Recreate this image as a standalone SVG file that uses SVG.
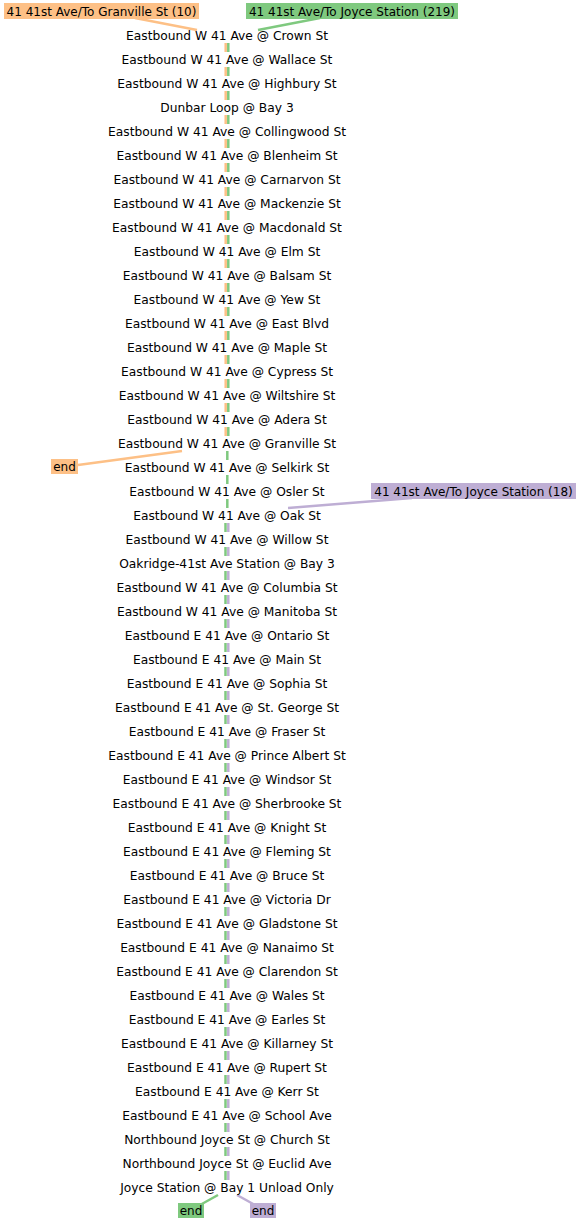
<svg xmlns="http://www.w3.org/2000/svg" width="581" height="1224" viewBox="0 0 581 1224">
<style>
text{font-family:"DejaVu Sans",sans-serif;font-size:12px;fill:#000}
.stop text{text-anchor:middle;font-size:12.25px}
.lbl text{text-anchor:middle}
.o{stroke:#fdc086}
.g{stroke:#7fc97f}
.p{stroke:#beaed4}
#edges line,#edges path{stroke-width:2.5;fill:none}
.fo{fill:#fdc086}
.fg{fill:#7fc97f}
.fp{fill:#beaed4}
</style>
<rect width="581" height="1224" fill="#fff"/>
<g id="edges">
<line class="o" x1="135" y1="18" x2="197" y2="30"/>
<line class="g" x1="320" y1="18" x2="258" y2="30"/>
<g id="seg-og">
<line class="o" x1="225.7" y1="43" x2="225.7" y2="52"/><line class="g" x1="228.3" y1="43" x2="228.3" y2="52"/>
<line class="o" x1="225.7" y1="67" x2="225.7" y2="76"/><line class="g" x1="228.3" y1="67" x2="228.3" y2="76"/>
<line class="o" x1="225.7" y1="91" x2="225.7" y2="100"/><line class="g" x1="228.3" y1="91" x2="228.3" y2="100"/>
<line class="o" x1="225.7" y1="115" x2="225.7" y2="124"/><line class="g" x1="228.3" y1="115" x2="228.3" y2="124"/>
<line class="o" x1="225.7" y1="139" x2="225.7" y2="148"/><line class="g" x1="228.3" y1="139" x2="228.3" y2="148"/>
<line class="o" x1="225.7" y1="163" x2="225.7" y2="172"/><line class="g" x1="228.3" y1="163" x2="228.3" y2="172"/>
<line class="o" x1="225.7" y1="187" x2="225.7" y2="196"/><line class="g" x1="228.3" y1="187" x2="228.3" y2="196"/>
<line class="o" x1="225.7" y1="211" x2="225.7" y2="220"/><line class="g" x1="228.3" y1="211" x2="228.3" y2="220"/>
<line class="o" x1="225.7" y1="235" x2="225.7" y2="244"/><line class="g" x1="228.3" y1="235" x2="228.3" y2="244"/>
<line class="o" x1="225.7" y1="259" x2="225.7" y2="268"/><line class="g" x1="228.3" y1="259" x2="228.3" y2="268"/>
<line class="o" x1="225.7" y1="283" x2="225.7" y2="292"/><line class="g" x1="228.3" y1="283" x2="228.3" y2="292"/>
<line class="o" x1="225.7" y1="307" x2="225.7" y2="316"/><line class="g" x1="228.3" y1="307" x2="228.3" y2="316"/>
<line class="o" x1="225.7" y1="331" x2="225.7" y2="340"/><line class="g" x1="228.3" y1="331" x2="228.3" y2="340"/>
<line class="o" x1="225.7" y1="355" x2="225.7" y2="364"/><line class="g" x1="228.3" y1="355" x2="228.3" y2="364"/>
<line class="o" x1="225.7" y1="379" x2="225.7" y2="388"/><line class="g" x1="228.3" y1="379" x2="228.3" y2="388"/>
<line class="o" x1="225.7" y1="403" x2="225.7" y2="412"/><line class="g" x1="228.3" y1="403" x2="228.3" y2="412"/>
<line class="o" x1="225.7" y1="427" x2="225.7" y2="436"/><line class="g" x1="228.3" y1="427" x2="228.3" y2="436"/>
</g>
<line class="o" x1="182" y1="451" x2="78" y2="465"/>
<g id="seg-g">
<line class="g" x1="227.3" y1="451" x2="227.3" y2="460"/>
<line class="g" x1="227.3" y1="475" x2="227.3" y2="484"/>
<line class="g" x1="227.3" y1="499" x2="227.3" y2="508"/>
</g>
<line class="p" x1="412" y1="498" x2="288" y2="508"/>
<g id="seg-gp">
<line class="g" x1="225.5" y1="523" x2="225.5" y2="532"/><line class="p" x1="228.3" y1="523" x2="228.3" y2="532"/>
<line class="g" x1="225.5" y1="547" x2="225.5" y2="556"/><line class="p" x1="228.3" y1="547" x2="228.3" y2="556"/>
<line class="g" x1="225.5" y1="571" x2="225.5" y2="580"/><line class="p" x1="228.3" y1="571" x2="228.3" y2="580"/>
<line class="g" x1="225.5" y1="595" x2="225.5" y2="604"/><line class="p" x1="228.3" y1="595" x2="228.3" y2="604"/>
<line class="g" x1="225.5" y1="619" x2="225.5" y2="628"/><line class="p" x1="228.3" y1="619" x2="228.3" y2="628"/>
<line class="g" x1="225.5" y1="643" x2="225.5" y2="652"/><line class="p" x1="228.3" y1="643" x2="228.3" y2="652"/>
<line class="g" x1="225.5" y1="667" x2="225.5" y2="676"/><line class="p" x1="228.3" y1="667" x2="228.3" y2="676"/>
<line class="g" x1="225.5" y1="691" x2="225.5" y2="700"/><line class="p" x1="228.3" y1="691" x2="228.3" y2="700"/>
<line class="g" x1="225.5" y1="715" x2="225.5" y2="724"/><line class="p" x1="228.3" y1="715" x2="228.3" y2="724"/>
<line class="g" x1="225.5" y1="739" x2="225.5" y2="748"/><line class="p" x1="228.3" y1="739" x2="228.3" y2="748"/>
<line class="g" x1="225.5" y1="763" x2="225.5" y2="772"/><line class="p" x1="228.3" y1="763" x2="228.3" y2="772"/>
<line class="g" x1="225.5" y1="787" x2="225.5" y2="796"/><line class="p" x1="228.3" y1="787" x2="228.3" y2="796"/>
<line class="g" x1="225.5" y1="811" x2="225.5" y2="820"/><line class="p" x1="228.3" y1="811" x2="228.3" y2="820"/>
<line class="g" x1="225.5" y1="835" x2="225.5" y2="844"/><line class="p" x1="228.3" y1="835" x2="228.3" y2="844"/>
<line class="g" x1="225.5" y1="859" x2="225.5" y2="868"/><line class="p" x1="228.3" y1="859" x2="228.3" y2="868"/>
<line class="g" x1="225.5" y1="883" x2="225.5" y2="892"/><line class="p" x1="228.3" y1="883" x2="228.3" y2="892"/>
<line class="g" x1="225.5" y1="907" x2="225.5" y2="916"/><line class="p" x1="228.3" y1="907" x2="228.3" y2="916"/>
<line class="g" x1="225.5" y1="931" x2="225.5" y2="940"/><line class="p" x1="228.3" y1="931" x2="228.3" y2="940"/>
<line class="g" x1="225.5" y1="955" x2="225.5" y2="964"/><line class="p" x1="228.3" y1="955" x2="228.3" y2="964"/>
<line class="g" x1="225.5" y1="979" x2="225.5" y2="988"/><line class="p" x1="228.3" y1="979" x2="228.3" y2="988"/>
<line class="g" x1="225.5" y1="1003" x2="225.5" y2="1012"/><line class="p" x1="228.3" y1="1003" x2="228.3" y2="1012"/>
<line class="g" x1="225.5" y1="1027" x2="225.5" y2="1036"/><line class="p" x1="228.3" y1="1027" x2="228.3" y2="1036"/>
<line class="g" x1="225.5" y1="1051" x2="225.5" y2="1060"/><line class="p" x1="228.3" y1="1051" x2="228.3" y2="1060"/>
<line class="g" x1="225.5" y1="1075" x2="225.5" y2="1084"/><line class="p" x1="228.3" y1="1075" x2="228.3" y2="1084"/>
<line class="g" x1="225.5" y1="1099" x2="225.5" y2="1108"/><line class="p" x1="228.3" y1="1099" x2="228.3" y2="1108"/>
<line class="g" x1="225.5" y1="1123" x2="225.5" y2="1132"/><line class="p" x1="228.3" y1="1123" x2="228.3" y2="1132"/>
<line class="g" x1="225.5" y1="1147" x2="225.5" y2="1156"/><line class="p" x1="228.3" y1="1147" x2="228.3" y2="1156"/>
<line class="g" x1="225.5" y1="1171" x2="225.5" y2="1180"/><line class="p" x1="228.3" y1="1171" x2="228.3" y2="1180"/>
</g>
<line class="g" x1="218" y1="1195" x2="200" y2="1205"/>
<line class="p" x1="237" y1="1195" x2="255" y2="1205"/>
</g>
<g id="route-labels" class="lbl">
<g id="start-granville"><rect class="fo" x="4" y="3" width="195" height="16"/><text x="101.5" y="15.5">41 41st Ave/To Granville St (10)</text></g>
<g id="start-joyce-219"><rect class="fg" x="246" y="3" width="212" height="16"/><text x="352" y="15.5">41 41st Ave/To Joyce Station (219)</text></g>
<g id="start-joyce-18"><rect class="fp" x="371" y="483" width="205" height="16"/><text x="473.5" y="495.5">41 41st Ave/To Joyce Station (18)</text></g>
<g id="end-orange"><rect class="fo" x="51" y="459" width="27" height="15"/><text x="64.5" y="471">end</text></g>
<g id="end-green"><rect class="fg" x="178" y="1203" width="26" height="15"/><text x="191" y="1215">end</text></g>
<g id="end-purple"><rect class="fp" x="250" y="1203" width="26" height="15"/><text x="263" y="1215">end</text></g>
</g>
<g id="stops" class="stop">
<g id="s1"><text x="227" y="39.5">Eastbound W 41 Ave @ Crown St</text></g>
<g id="s2"><text x="227" y="63.5">Eastbound W 41 Ave @ Wallace St</text></g>
<g id="s3"><text x="227" y="87.5">Eastbound W 41 Ave @ Highbury St</text></g>
<g id="s4"><text x="227" y="111.5">Dunbar Loop @ Bay 3</text></g>
<g id="s5"><text x="227" y="135.5">Eastbound W 41 Ave @ Collingwood St</text></g>
<g id="s6"><text x="227" y="159.5">Eastbound W 41 Ave @ Blenheim St</text></g>
<g id="s7"><text x="227" y="183.5">Eastbound W 41 Ave @ Carnarvon St</text></g>
<g id="s8"><text x="227" y="207.5">Eastbound W 41 Ave @ Mackenzie St</text></g>
<g id="s9"><text x="227" y="231.5">Eastbound W 41 Ave @ Macdonald St</text></g>
<g id="s10"><text x="227" y="255.5">Eastbound W 41 Ave @ Elm St</text></g>
<g id="s11"><text x="227" y="279.5">Eastbound W 41 Ave @ Balsam St</text></g>
<g id="s12"><text x="227" y="303.5">Eastbound W 41 Ave @ Yew St</text></g>
<g id="s13"><text x="227" y="327.5">Eastbound W 41 Ave @ East Blvd</text></g>
<g id="s14"><text x="227" y="351.5">Eastbound W 41 Ave @ Maple St</text></g>
<g id="s15"><text x="227" y="375.5">Eastbound W 41 Ave @ Cypress St</text></g>
<g id="s16"><text x="227" y="399.5">Eastbound W 41 Ave @ Wiltshire St</text></g>
<g id="s17"><text x="227" y="423.5">Eastbound W 41 Ave @ Adera St</text></g>
<g id="s18"><text x="227" y="447.5">Eastbound W 41 Ave @ Granville St</text></g>
<g id="s19"><text x="227" y="471.5">Eastbound W 41 Ave @ Selkirk St</text></g>
<g id="s20"><text x="227" y="495.5">Eastbound W 41 Ave @ Osler St</text></g>
<g id="s21"><text x="227" y="519.5">Eastbound W 41 Ave @ Oak St</text></g>
<g id="s22"><text x="227" y="543.5">Eastbound W 41 Ave @ Willow St</text></g>
<g id="s23"><text x="227" y="567.5">Oakridge-41st Ave Station @ Bay 3</text></g>
<g id="s24"><text x="227" y="591.5">Eastbound W 41 Ave @ Columbia St</text></g>
<g id="s25"><text x="227" y="615.5">Eastbound W 41 Ave @ Manitoba St</text></g>
<g id="s26"><text x="227" y="639.5">Eastbound E 41 Ave @ Ontario St</text></g>
<g id="s27"><text x="227" y="663.5">Eastbound E 41 Ave @ Main St</text></g>
<g id="s28"><text x="227" y="687.5">Eastbound E 41 Ave @ Sophia St</text></g>
<g id="s29"><text x="227" y="711.5">Eastbound E 41 Ave @ St. George St</text></g>
<g id="s30"><text x="227" y="735.5">Eastbound E 41 Ave @ Fraser St</text></g>
<g id="s31"><text x="227" y="759.5">Eastbound E 41 Ave @ Prince Albert St</text></g>
<g id="s32"><text x="227" y="783.5">Eastbound E 41 Ave @ Windsor St</text></g>
<g id="s33"><text x="227" y="807.5">Eastbound E 41 Ave @ Sherbrooke St</text></g>
<g id="s34"><text x="227" y="831.5">Eastbound E 41 Ave @ Knight St</text></g>
<g id="s35"><text x="227" y="855.5">Eastbound E 41 Ave @ Fleming St</text></g>
<g id="s36"><text x="227" y="879.5">Eastbound E 41 Ave @ Bruce St</text></g>
<g id="s37"><text x="227" y="903.5">Eastbound E 41 Ave @ Victoria Dr</text></g>
<g id="s38"><text x="227" y="927.5">Eastbound E 41 Ave @ Gladstone St</text></g>
<g id="s39"><text x="227" y="951.5">Eastbound E 41 Ave @ Nanaimo St</text></g>
<g id="s40"><text x="227" y="975.5">Eastbound E 41 Ave @ Clarendon St</text></g>
<g id="s41"><text x="227" y="999.5">Eastbound E 41 Ave @ Wales St</text></g>
<g id="s42"><text x="227" y="1023.5">Eastbound E 41 Ave @ Earles St</text></g>
<g id="s43"><text x="227" y="1047.5">Eastbound E 41 Ave @ Killarney St</text></g>
<g id="s44"><text x="227" y="1071.5">Eastbound E 41 Ave @ Rupert St</text></g>
<g id="s45"><text x="227" y="1095.5">Eastbound E 41 Ave @ Kerr St</text></g>
<g id="s46"><text x="227" y="1119.5">Eastbound E 41 Ave @ School Ave</text></g>
<g id="s47"><text x="227" y="1143.5">Northbound Joyce St @ Church St</text></g>
<g id="s48"><text x="227" y="1167.5">Northbound Joyce St @ Euclid Ave</text></g>
<g id="s49"><text x="227" y="1191.5">Joyce Station @ Bay 1 Unload Only</text></g>
</g>
</svg>
